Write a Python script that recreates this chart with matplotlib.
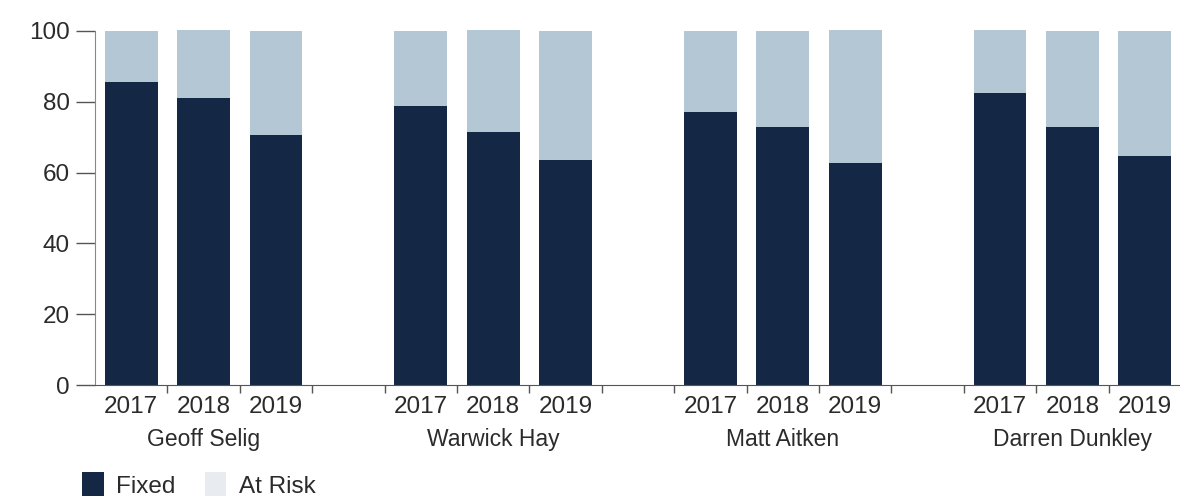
import matplotlib.pyplot as plt
from matplotlib.patches import Patch
from matplotlib.transforms import blended_transform_factory

plt.rcParams['font.family'] = ['Liberation Sans', 'DejaVu Sans']

# Data (percent of total pay)
people = ['Geoff Selig', 'Warwick Hay', 'Matt Aitken', 'Darren Dunkley']
years = ['2017', '2018', '2019']
fixed = [
    [85.7, 81.1, 70.6],
    [78.8, 71.5, 63.6],
    [77.1, 72.9, 62.7],
    [82.5, 72.9, 64.7],
]
at_risk = [
    [14.3, 19.3, 29.4],
    [21.2, 28.8, 36.4],
    [22.9, 27.1, 37.6],
    [17.8, 27.1, 35.3],
]

navy = '#142846'
light = '#b3c8d4'
legend_light = '#e8ecf1'
text_col = '#2b2b2b'

fig = plt.figure(figsize=(11.8, 4.96), dpi=100)
ax = fig.add_axes([95 / 1180, 1 - 385 / 496, 1086 / 1180, 355.8 / 496])

xs, labels = [], []
for g, name in enumerate(people):
    pos = [g * 4 + i for i in range(len(years))]
    ax.bar(pos, fixed[g], width=0.73, color=navy, clip_on=False)
    ax.bar(pos, at_risk[g], width=0.73, bottom=fixed[g], color=light, clip_on=False)
    xs += pos
    labels += years

ax.set_xlim(-0.5, 14.5)
ax.set_ylim(0, 100.5)

ax.set_xticks(xs)
ax.set_xticklabels(labels)
ax.set_xticks([b + 0.5 for b in range(0, 14)], minor=True)
ax.tick_params(axis='x', which='major', length=0, pad=8, labelsize=17.5, labelcolor=text_col)
ax.tick_params(axis='x', which='minor', length=6, width=1, color='#555555', direction='out')

ax.set_yticks([0, 20, 40, 60, 80, 100])
ax.tick_params(axis='y', length=14, width=1, color='#555555', pad=4,
               labelsize=17.5, labelcolor=text_col)

for side in ['top', 'right']:
    ax.spines[side].set_visible(False)
ax.spines['left'].set_bounds(0, 100)
ax.spines['left'].set_color('#888888')
ax.spines['bottom'].set_color('#555555')

trans = blended_transform_factory(ax.transData, ax.transAxes)
for g, name in enumerate(people):
    ax.text(g * 4 + 1, -0.122, name, transform=trans, ha='center', va='top',
            fontsize=16.5, color=text_col)

handles = [Patch(facecolor=navy, label='Fixed'), Patch(facecolor=legend_light, label='At Risk')]
fig.legend(handles=handles, loc='center left', bbox_to_anchor=(82 / 1180, 11 / 496),
           ncol=2, frameon=False, fontsize=17.5, handlelength=0.9, handleheight=1.2,
           handletextpad=0.5, columnspacing=1.2, borderpad=0, borderaxespad=0,
           labelcolor=text_col)

fig.savefig('out.png', dpi=100)
